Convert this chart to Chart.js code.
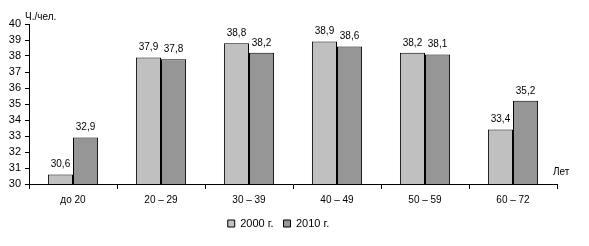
<!DOCTYPE html>
<html lang="ru">
  <head>
    <meta charset="UTF-8">
    <script src="https://cdn.jsdelivr.net/npm/chart.js"></script>
    <title>Часы на человека по возрастным группам</title>
    <style>
      html, body { margin: 0; padding: 0; background: #fff; }
      #plot { width: 589px; height: 246px; }
    </style>
  </head>
  <body>
    <div id="plot">
      <canvas id="myChart" width="589" height="246"></canvas>
    </div>
    <script>
      // Age groups and values (hours per person)
      const ageGroups = ['до 20', '20 – 29', '30 – 39', '40 – 49', '50 – 59', '60 – 72'];
      const values2000 = [30.6, 37.9, 38.8, 38.9, 38.2, 33.4];
      const values2010 = [32.9, 37.8, 38.2, 38.6, 38.1, 35.2];
      const seriesNames = ['2000 г.', '2010 г.'];
      const yTicks = [30, 31, 32, 33, 34, 35, 36, 37, 38, 39, 40];

      const font = 'Liberation Sans, Arial, sans-serif';

      // value labels above bars + axis captions
      const extraText = {
        id: 'extraText',
        afterDatasetsDraw(chart) {
          const ctx = chart.ctx;
          ctx.save();
          ctx.fillStyle = '#000';
          ctx.font = '10px ' + font;
          ctx.textAlign = 'center';
          ctx.textBaseline = 'bottom';
          chart.data.datasets.forEach(function (ds, i) {
            const meta = chart.getDatasetMeta(i);
            meta.data.forEach(function (bar, j) {
              const txt = ds.data[j].toFixed(1).replace('.', ',');
              ctx.fillText(txt, bar.x, bar.y - 5);
            });
          });
          const area = chart.chartArea;
          ctx.textAlign = 'left';
          ctx.textBaseline = 'middle';
          ctx.fillText('Ч./чел.', area.left - 4, area.top - 7);
          ctx.fillText('Лет', area.right - 4, area.bottom - 12);
          ctx.restore();
        }
      };

      const chartData = {
        labels: ageGroups,
        datasets: [
          {
            label: seriesNames[0],
            data: values2000,
            backgroundColor: '#c0c0c0',
            borderColor: '#000',
            borderWidth: 1,
          },
          {
            label: seriesNames[1],
            data: values2010,
            backgroundColor: '#969696',
            borderColor: '#000',
            borderWidth: 1,
          },
        ],
      };

      const ctx = document.getElementById('myChart').getContext('2d');
      const myChart = new Chart(ctx, {
        type: 'bar',
        data: chartData,
        plugins: [extraText],
        options: {
          responsive: false,
          animation: false,
          layout: { padding: { left: 0, right: 32, top: 24, bottom: 7 } },
          datasets: {
            bar: { barPercentage: 1, categoryPercentage: 0.57 }
          },
          plugins: {
            tooltip: { enabled: false },
            legend: {
              position: 'bottom',
              labels: {
                boxWidth: 7,
                boxHeight: 7,
                padding: 10,
                color: '#000',
                font: { family: font, size: 11 },
              },
            },
          },
          scales: {
            x: {
              grid: { offset: true, drawOnChartArea: false, color: '#000', tickLength: 5 },
              border: { color: '#000' },
              ticks: { color: '#000', font: { family: font, size: 10 }, padding: 5 },
              afterFit: function (scale) { scale.height = 24; },
            },
            y: {
              min: 30,
              max: 40,
              afterBuildTicks: function (scale) {
                scale.ticks = yTicks.map(v => ({ value: v }));
              },
              grid: { drawOnChartArea: false, color: '#000', tickLength: 4 },
              border: { color: '#000' },
              ticks: { color: '#000', font: { family: font, size: 11 }, padding: 4, autoSkip: false },
              afterFit: function (scale) { scale.width = 29; },
            },
          },
        },
      });
    </script>
  </body>
</html>
